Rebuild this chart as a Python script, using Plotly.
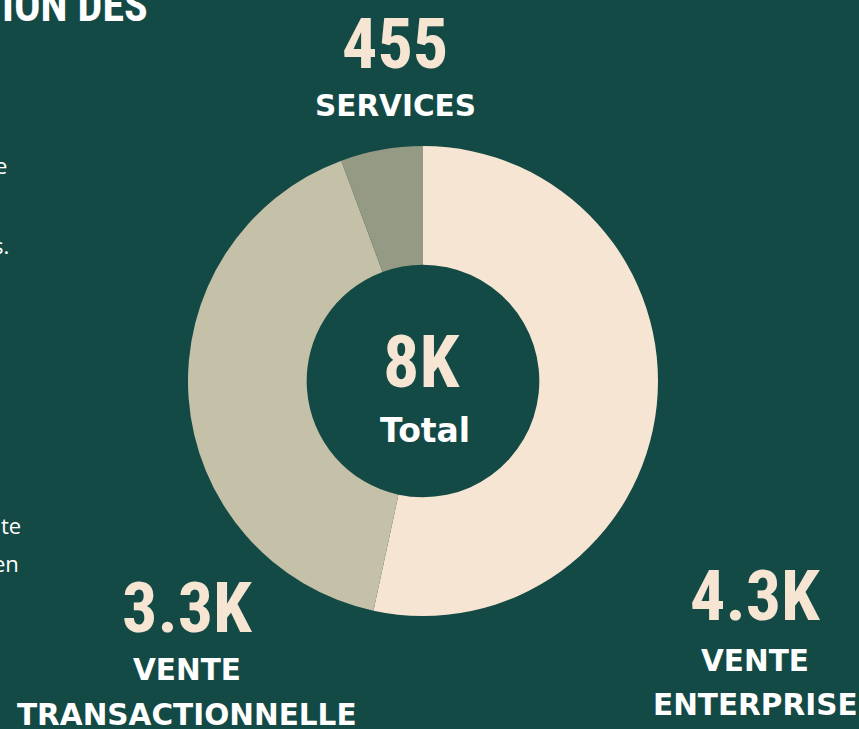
import plotly.graph_objects as go

# ---- data ----
categories = ["VENTE<br>ENTERPRISE", "VENTE<br>TRANSACTIONNELLE", "SERVICES"]
values = [4300, 3300, 455]
colors = ["#F7E5D3", "#C5C0A8", "#949A84"]
total_name = "Total"
title_fragment = "ION DES"
side_fragments = ["e", "s.", "te", "en"]

BG = "#144A45"
CREAM = "#F7E5D3"
W, H = 859, 729


def fmt(v):
    if v >= 1000:
        s = f"{v/1000:.1f}"
        if s.endswith(".0"):
            s = s[:-2]
        return s + "K"
    return str(v)


total = sum(values)
total_label = f"{round(total/1000)}K"

# pie geometry (pixels)
cx, cy, r = 423, 381, 235
dom_x = [(cx - r) / W, (cx + r) / W]
dom_y = [(H - cy - r) / H, (H - cy + r) / H]

fig = go.Figure(
    go.Pie(
        labels=categories,
        values=values,
        marker=dict(colors=colors, line=dict(width=0)),
        hole=0.495,
        sort=False,
        direction="clockwise",
        rotation=0,
        textinfo="none",
        hoverinfo="label+value",
        showlegend=False,
        domain=dict(x=dom_x, y=dom_y),
    )
)

NUM_FONT = "Roboto Condensed, Liberation Sans Narrow, DejaVu Sans Condensed, sans-serif"
LBL_FONT = "DejaVu Sans, Open Sans, sans-serif"


def ann(text, x, y, size, color, family, xanchor="center", weight="bold"):
    return dict(
        text=text, x=x / W, y=1 - y / H, xref="paper", yref="paper",
        xanchor=xanchor, yanchor="middle", showarrow=False,
        font=dict(size=size, color=color, family=family, weight=weight),
    )


annotations = []
# value labels + category names
num_pos = [(755, 596), (187, 608), (395, 44)]
name_pos = [[(755, 661), (755, 705)], [(187, 670), (187, 715)], [(395, 106)]]
for v, name, (nx, ny), npos in zip(values, categories, num_pos, name_pos):
    annotations.append(ann(fmt(v), nx, ny, 70, CREAM, NUM_FONT))
    for part, (px, py) in zip(name.split("<br>"), npos):
        annotations.append(ann(part, px, py, 29.5, "white", LBL_FONT))

# center
annotations.append(ann(total_label, 421, 362, 72, CREAM, NUM_FONT))
annotations.append(ann(total_name, 425, 430, 33, "white", LBL_FONT))

# cut-off fragments of surrounding infographic
annotations.append(ann(title_fragment, 150, 6, 44, "white", NUM_FONT, xanchor="right"))
for frag, (fx, fy) in zip(side_fragments, [(9, 165), (11, 245), (23, 525), (21, 563)]):
    annotations.append(ann(frag, fx, fy, 22, "white", "Open Sans, sans-serif",
                           xanchor="right", weight="normal"))

fig.update_layout(
    width=W, height=H,
    paper_bgcolor=BG, plot_bgcolor=BG,
    margin=dict(l=0, r=0, t=0, b=0),
    annotations=annotations,
)

fig.write_html(
    "out.html",
    config={"displayModeBar": False},
    post_script="document.body.style.margin='0';document.body.style.background='%s';" % BG,
)
